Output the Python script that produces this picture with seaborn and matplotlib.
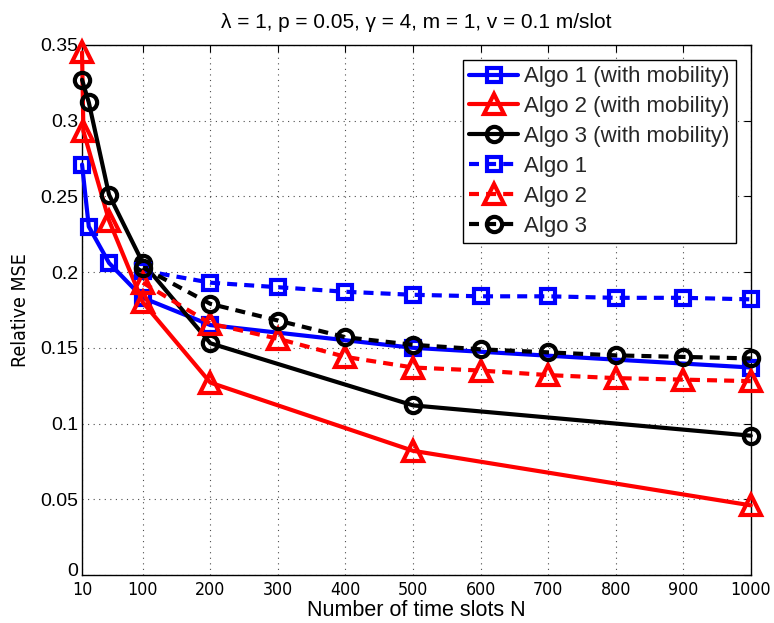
import matplotlib
matplotlib.use("Agg")
import matplotlib.pyplot as plt
from matplotlib import font_manager as fm
from matplotlib.transforms import ScaledTranslation
import seaborn as sns
import pandas as pd

# ---- data ----
n_mob_a1 = [10, 20, 50, 100, 200, 500, 1000]
a1_mob = [0.271, 0.230, 0.206, 0.183, 0.165, 0.150, 0.137]
n_mob_a2 = [10, 12, 50, 100, 200, 500, 1000]
a2_mob = [0.345, 0.293, 0.234, 0.180, 0.127, 0.082, 0.046]
n_mob_a3 = [10, 20, 50, 100, 200, 500, 1000]
a3_mob = [0.327, 0.312, 0.251, 0.206, 0.153, 0.112, 0.092]

n_static = [100, 200, 300, 400, 500, 600, 700, 800, 900, 1000]
a1_static = [0.201, 0.193, 0.190, 0.187, 0.185, 0.184, 0.184, 0.183, 0.183, 0.182]
a2_static = [0.193, 0.166, 0.156, 0.144, 0.137, 0.135, 0.132, 0.130, 0.129, 0.128]
a3_static = [0.203, 0.179, 0.168, 0.157, 0.152, 0.149, 0.147, 0.145, 0.144, 0.143]

x_ticks = [10, 100, 200, 300, 400, 500, 600, 700, 800, 900, 1000]
y_ticks = [0, 0.05, 0.1, 0.15, 0.2, 0.25, 0.3, 0.35]
y_tick_labels = ["0", "0.05", "0.1", "0.15", "0.2", "0.25", "0.3", "0.35"]

labels = ["Algo 1 (with mobility)", "Algo 2 (with mobility)", "Algo 3 (with mobility)",
          "Algo 1", "Algo 2", "Algo 3"]

sns.set_theme(style="white")
plt.rcParams['font.family'] = ['Liberation Sans', 'DejaVu Sans']

# look for a narrow / condensed sans face (used for axis tick text)
narrow_path = None
narrow_kind = None
for f in fm.fontManager.ttflist:
    fn = f.fname.lower()
    if "liberationsansnarrow-regular" in fn:
        narrow_path, narrow_kind = f.fname, "lib"
        break
if narrow_path is None:
    for f in fm.fontManager.ttflist:
        fn = f.fname.lower()
        if fn.endswith("dejavusanscondensed.ttf"):
            narrow_path, narrow_kind = f.fname, "dv"
            break

fig = plt.figure(figsize=(7.74, 6.23), dpi=100)
ax = fig.add_axes([0.106, 0.077, 0.864, 0.851])

series = [
    (n_mob_a1, a1_mob, "blue", "s", "-", labels[0]),
    (n_mob_a2, a2_mob, "red", "^", "-", labels[1]),
    (n_mob_a3, a3_mob, "black", "o", "-", labels[2]),
    (n_static, a1_static, "blue", "s", "--", labels[3]),
    (n_static, a2_static, "red", "^", "--", labels[4]),
    (n_static, a3_static, "black", "o", "--", labels[5]),
]

msize = {"s": 10, "^": 14, "o": 11}
for xs, ys, col, mk, ls, lab in series:
    df = pd.DataFrame({"N": xs, "MSE": ys})
    sns.lineplot(data=df, x="N", y="MSE", ax=ax, color=col, marker=mk,
                 markersize=msize[mk], markerfacecolor="none", markeredgecolor=col,
                 markeredgewidth=3.0, linewidth=3.0, label=lab, sort=False,
                 dashes=False, linestyle=ls, clip_on=False, zorder=3)

for line in ax.lines:
    if line.get_linestyle() == "--":
        line.set_dashes([2.4, 1.7])

ax.set_xlim(10, 1000)
ax.set_ylim(0, 0.35)
ax.set_xticks(x_ticks)
ax.set_yticks(y_ticks)
ax.set_yticklabels(y_tick_labels)
ax.tick_params(direction="in", top=True, right=True, length=5, width=0.8,
               colors="black")
ax.tick_params(axis="y", labelsize=14, pad=3)

if narrow_kind == "lib":
    xt_fp = fm.FontProperties(fname=narrow_path, size=16)
    yl_fp = fm.FontProperties(fname=narrow_path, size=17)
elif narrow_kind == "dv":
    xt_fp = fm.FontProperties(fname=narrow_path, size=12.8)
    yl_fp = fm.FontProperties(fname=narrow_path, size=14)
else:
    xt_fp = fm.FontProperties(family="Liberation Sans", size=12.6)
    yl_fp = fm.FontProperties(family="Liberation Sans", size=14.5)

ax.set_xticklabels([str(v) for v in x_ticks], fontproperties=xt_fp)
ax.tick_params(axis="x", pad=4)
ax.grid(True, linestyle=(0, (1, 4)), color="black", linewidth=0.8, alpha=0.7)
for sp in ax.spines.values():
    sp.set_color("black")
    sp.set_linewidth(1.0)

# nudge the "0" y label up a little so it clears the "10" x label
zero_lab = ax.get_yticklabels()[0]
zero_lab.set_transform(zero_lab.get_transform() +
                       ScaledTranslation(0, 4 / 72, fig.dpi_scale_trans))

ax.set_xlabel("Number of time slots N", fontsize=15.5, labelpad=1, color="black")
ax.set_ylabel("Relative MSE", fontproperties=yl_fp, color="black")
ax.yaxis.set_label_coords(-0.078, 0.5)
ax.set_title("λ = 1, p = 0.05, γ = 4, m = 1, v = 0.1 m/slot", fontsize=15, pad=12, color="black")

leg = ax.legend(loc="upper right", fontsize=16, frameon=True, fancybox=False,
                edgecolor="black", framealpha=1, borderpad=0.3, labelspacing=0.4,
                handlelength=2.2, handletextpad=0.25, borderaxespad=0,
                bbox_to_anchor=(0.978, 0.972))
leg.get_frame().set_linewidth(1.0)

fig.savefig("out.png", dpi=100)
